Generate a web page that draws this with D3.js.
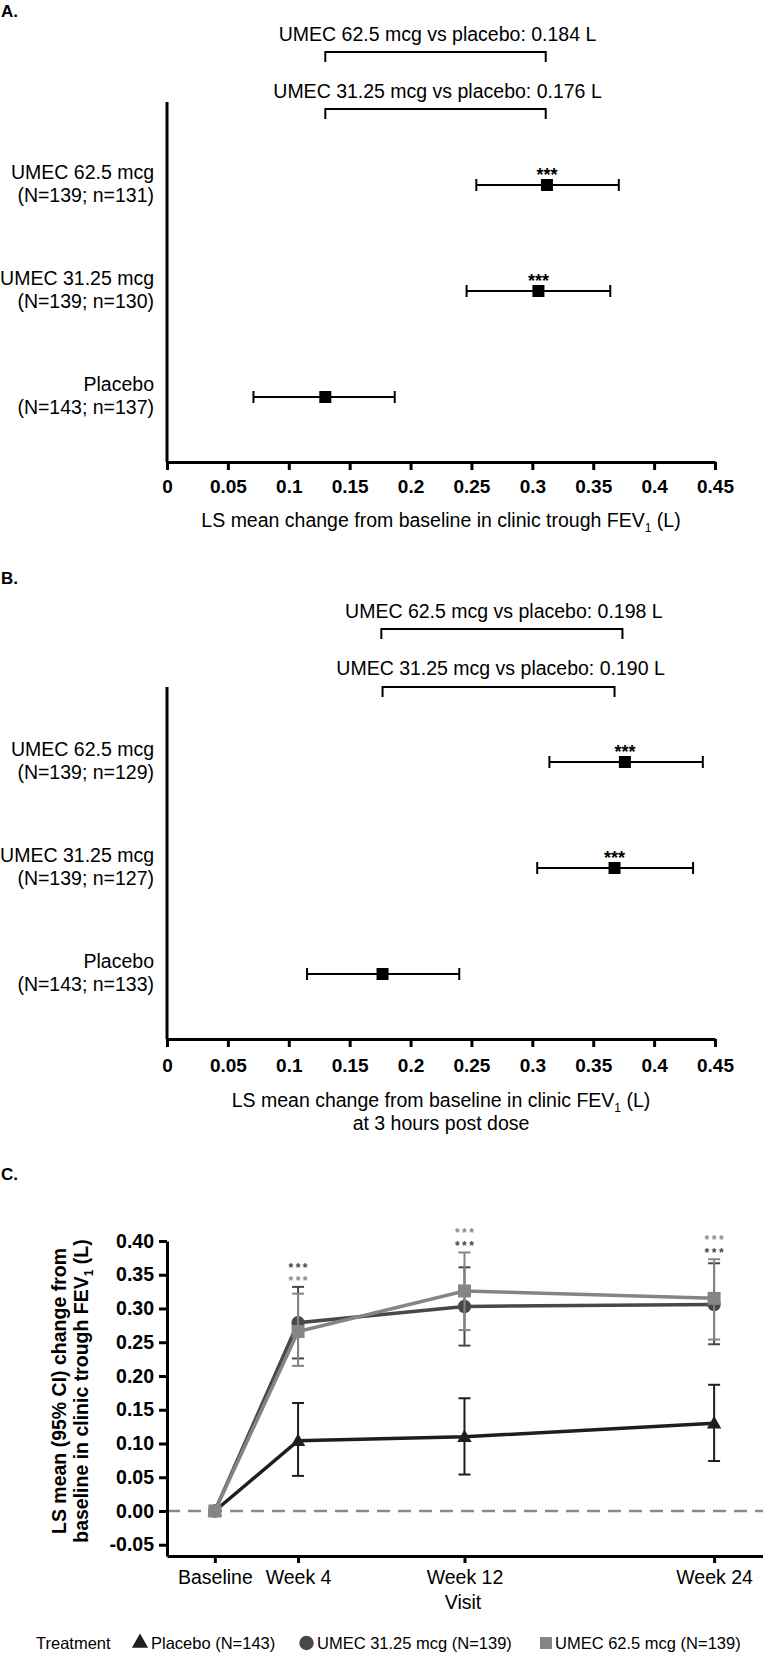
<!DOCTYPE html>
<html><head><meta charset="utf-8">
<script src="https://cdn.jsdelivr.net/npm/d3@7"></script>
<style>
body{margin:0;background:#fff}
svg{display:block}
text{font-family: Arial, "Liberation Sans", Helvetica, sans-serif; fill:#000;}
</style>
</head><body>
<svg id="chart" width="763" height="1653"></svg>
<script>
// ---------- DATA ----------
// Panels A & B (forest plots)
const forestCategories = ["UMEC 62.5 mcg", "UMEC 31.25 mcg", "Placebo"];
const forestTicks = [0, 0.05, 0.1, 0.15, 0.2, 0.25, 0.3, 0.35, 0.4, 0.45];
const forestTickLabels = ["0", "0.05", "0.1", "0.15", "0.2", "0.25", "0.3", "0.35", "0.4", "0.45"];

// A: clinic trough FEV1
const troughN = ["(N=139; n=131)", "(N=139; n=130)", "(N=143; n=137)"];
const troughMean = [0.312, 0.305, 0.130];
const troughLow = [0.254, 0.246, 0.071];
const troughHigh = [0.371, 0.364, 0.187];
const troughSig = ["***", "***", ""];
const troughComparisons = ["UMEC 62.5 mcg vs placebo: 0.184 L", "UMEC 31.25 mcg vs placebo: 0.176 L"];
const troughBracketFrom = [0.130, 0.130];
const troughBracketTo = [0.311, 0.311];

// B: clinic FEV1 at 3 h post dose
const postN = ["(N=139; n=129)", "(N=139; n=127)", "(N=143; n=133)"];
const postMean = [0.376, 0.3675, 0.177];
const postLow = [0.314, 0.304, 0.115];
const postHigh = [0.440, 0.432, 0.240];
const postSig = ["***", "***", ""];
const postComparisons = ["UMEC 62.5 mcg vs placebo: 0.198 L", "UMEC 31.25 mcg vs placebo: 0.190 L"];
const postBracketFrom = [0.176, 0.177];
const postBracketTo = [0.374, 0.3675];

// C: time course
const visits = ["Baseline", "Week 4", "Week 12", "Week 24"];
const visitWeeks = [0, 4, 12, 24];
const placeboMean = [0, 0.104, 0.110, 0.130];
const placeboLow = [null, 0.052, 0.054, 0.074];
const placeboHigh = [null, 0.160, 0.167, 0.187];
const umec31Mean = [0, 0.279, 0.303, 0.306];
const umec31Low = [null, 0.226, 0.245, 0.247];
const umec31High = [null, 0.332, 0.361, 0.367];
const umec62Mean = [0, 0.266, 0.326, 0.315];
const umec62Low = [null, 0.215, 0.268, 0.254];
const umec62High = [null, 0.322, 0.383, 0.373];
const sigTopSeries = [null, "umec31", "umec62", "umec62"];    // upper row of *** at each visit
const sigBottomSeries = [null, "umec62", "umec31", "umec31"]; // lower row of ***
const yTicksC = [-0.05, 0, 0.05, 0.10, 0.15, 0.20, 0.25, 0.30, 0.35, 0.40];
const yTickLabelsC = ["-0.05", "0.00", "0.05", "0.10", "0.15", "0.20", "0.25", "0.30", "0.35", "0.40"];
const legendLabels = ["Placebo (N=143)", "UMEC 31.25 mcg (N=139)", "UMEC 62.5 mcg (N=139)"];

// ---------- DRAW ----------
const svg = d3.select("#chart");
const FONT = 19.5;

function panelLetter(txt, y) {
  svg.append("text").attr("x", 1).attr("y", y).attr("font-size", 17).attr("font-weight", "bold").text(txt);
}

function addFEV(sel, before, after) {
  sel.append("tspan").text(before);
  sel.append("tspan").attr("font-size", 12).attr("dy", 5).text("1");
  sel.append("tspan").attr("dy", -5).text(after);
}

function drawForest(cfg) {
  const x = d3.scaleLinear().domain([0, 0.45]).range([167, 715]);
  const y = d3.scalePoint().domain(forestCategories).range(cfg.rowRange);
  const g = svg.append("g");

  // comparison titles and brackets
  cfg.comparisons.forEach((t, i) => {
    const x1 = x(cfg.bFrom[i]), x2 = x(cfg.bTo[i]);
    g.append("text").attr("x", (x1 + x2) / 2 + 2).attr("y", cfg.titleY[i])
      .attr("text-anchor", "middle").attr("font-size", FONT).text(t);
    g.append("path")
      .attr("d", `M${x1},${cfg.bracketY[i] + 10}V${cfg.bracketY[i]}H${x2}V${cfg.bracketY[i] + 10}`)
      .attr("fill", "none").attr("stroke", "#000").attr("stroke-width", 2);
  });

  // y axis line
  g.append("line").attr("x1", 167).attr("x2", 167).attr("y1", cfg.top).attr("y2", cfg.axisY)
    .attr("stroke", "#000").attr("stroke-width", 3);

  // x axis
  const ax = g.append("g").attr("transform", `translate(0,${cfg.axisY})`)
    .call(d3.axisBottom(x).tickValues(forestTicks).tickFormat((d, i) => forestTickLabels[i])
      .tickSize(8).tickSizeOuter(0).tickPadding(cfg.tickPad));
  ax.select(".domain").attr("stroke", "#000").attr("stroke-width", 3);
  ax.selectAll(".tick line").attr("stroke", "#000").attr("stroke-width", 3);
  ax.selectAll(".tick text").attr("font-size", 19).attr("font-weight", "bold")
    .attr("font-family", 'Arial, "Liberation Sans", sans-serif').attr("fill", "#000");

  // axis title
  cfg.axisTitle(g);

  // rows
  forestCategories.forEach((c, i) => {
    const yy = y(c);
    g.append("text").attr("x", 154).attr("y", yy - 6).attr("text-anchor", "end").attr("font-size", FONT).text(c);
    g.append("text").attr("x", 154).attr("y", yy + 17).attr("text-anchor", "end").attr("font-size", FONT).text(cfg.nLabels[i]);
    const lo = x(cfg.low[i]), hi = x(cfg.high[i]);
    g.append("line").attr("x1", lo).attr("x2", hi).attr("y1", yy).attr("y2", yy).attr("stroke", "#000").attr("stroke-width", 2);
    [lo, hi].forEach(xx => g.append("line").attr("x1", xx).attr("x2", xx).attr("y1", yy - 6).attr("y2", yy + 6)
      .attr("stroke", "#000").attr("stroke-width", 2));
    g.append("rect").attr("x", x(cfg.mean[i]) - 6).attr("y", yy - 6).attr("width", 12).attr("height", 12).attr("fill", "#000");
    if (cfg.sig[i]) {
      g.append("text").attr("x", x(cfg.mean[i])).attr("y", yy - 4.5).attr("text-anchor", "middle")
        .attr("font-size", 18).attr("font-weight", "bold").text(cfg.sig[i]);
    }
  });
}

panelLetter("A.", 17);
drawForest({
  rowRange: [185, 397], top: 102, axisY: 462, tickPad: 10,
  titleY: [41, 98], bracketY: [52, 109],
  comparisons: troughComparisons, bFrom: troughBracketFrom, bTo: troughBracketTo,
  nLabels: troughN, mean: troughMean, low: troughLow, high: troughHigh, sig: troughSig,
  axisTitle: g => {
    const t = g.append("text").attr("x", 441).attr("y", 527).attr("text-anchor", "middle").attr("font-size", FONT);
    addFEV(t, "LS mean change from baseline in clinic trough FEV", " (L)");
  }
});

panelLetter("B.", 584);
drawForest({
  rowRange: [762, 974], top: 687, axisY: 1039, tickPad: 12,
  titleY: [618, 675], bracketY: [629, 687],
  comparisons: postComparisons, bFrom: postBracketFrom, bTo: postBracketTo,
  nLabels: postN, mean: postMean, low: postLow, high: postHigh, sig: postSig,
  axisTitle: g => {
    const t = g.append("text").attr("x", 441).attr("y", 1107).attr("text-anchor", "middle").attr("font-size", FONT);
    addFEV(t, "LS mean change from baseline in clinic FEV", " (L)");
    g.append("text").attr("x", 441).attr("y", 1130).attr("text-anchor", "middle").attr("font-size", FONT).text("at 3 hours post dose");
  }
});

// ---------- Panel C ----------
panelLetter("C.", 1180);
const xc = d3.scaleLinear().domain([-2.3, 26.35]).range([167, 763]);
const yc = d3.scaleLinear().domain([-0.0667, 0.40]).range([1556, 1241]);
const gc = svg.append("g");

// zero dashed line
gc.append("line").attr("x1", 167).attr("x2", 763).attr("y1", yc(0)).attr("y2", yc(0))
  .attr("stroke", "#8a8a8a").attr("stroke-width", 2.5).attr("stroke-dasharray", "13,8");

const yAx = gc.append("g").attr("transform", "translate(167,0)")
  .call(d3.axisLeft(yc).tickValues(yTicksC).tickFormat((d, i) => yTickLabelsC[i]).tickSize(8).tickSizeOuter(0).tickPadding(5));
yAx.select(".domain").attr("stroke", "#000").attr("stroke-width", 3);
yAx.selectAll(".tick line").attr("stroke", "#000").attr("stroke-width", 3);
yAx.selectAll(".tick text").attr("font-size", 19.5).attr("font-weight", "bold")
  .attr("font-family", 'Arial, "Liberation Sans", sans-serif').attr("fill", "#000");

const xAx = gc.append("g").attr("transform", "translate(0,1556)")
  .call(d3.axisBottom(xc).tickValues(visitWeeks).tickFormat((d, i) => visits[i]).tickSize(7).tickSizeOuter(0).tickPadding(7));
xAx.select(".domain").attr("stroke", "#000").attr("stroke-width", 3);
xAx.selectAll(".tick line").attr("stroke", "#000").attr("stroke-width", 3);
xAx.selectAll(".tick text").attr("font-size", 19.5)
  .attr("font-family", 'Arial, "Liberation Sans", sans-serif').attr("fill", "#000");

gc.append("text").attr("x", 463).attr("y", 1609).attr("text-anchor", "middle").attr("font-size", 19.5).text("Visit");

// y title
gc.append("text").attr("transform", "translate(66,1391) rotate(-90)").attr("text-anchor", "middle")
  .attr("font-size", 19.5).attr("font-weight", "bold").text("LS mean (95% CI) change from");
const yt2 = gc.append("text").attr("transform", "translate(88,1391) rotate(-90)").attr("text-anchor", "middle")
  .attr("font-size", 19.5).attr("font-weight", "bold");
addFEV(yt2, "baseline in clinic trough FEV", " (L)");

const series = [
  { key: "placebo", mean: placeboMean, low: placeboLow, high: placeboHigh, color: "#1e1e1e", sym: d3.symbolTriangle, size: 90 },
  { key: "umec31", mean: umec31Mean, low: umec31Low, high: umec31High, color: "#484848", sym: d3.symbolCircle, size: 140 },
  { key: "umec62", mean: umec62Mean, low: umec62Low, high: umec62High, color: "#858585", sym: d3.symbolSquare, size: 169 }
];
const line = d3.line().x((d, i) => xc(visitWeeks[i])).y(d => yc(d));

series.forEach(s => {
  const g = gc.append("g");
  visitWeeks.forEach((w, i) => {
    if (s.low[i] == null) return;
    const xx = xc(w);
    g.append("line").attr("x1", xx).attr("x2", xx).attr("y1", yc(s.low[i])).attr("y2", yc(s.high[i]))
      .attr("stroke", s.color).attr("stroke-width", 2);
    [s.low[i], s.high[i]].forEach(v => g.append("line").attr("x1", xx - 6).attr("x2", xx + 6)
      .attr("y1", yc(v)).attr("y2", yc(v)).attr("stroke", s.color).attr("stroke-width", 2));
  });
  g.append("path").attr("d", line(s.mean)).attr("fill", "none").attr("stroke", s.color).attr("stroke-width", 3.5);
  s.mean.forEach((v, i) => {
    g.append("path").attr("d", d3.symbol(s.sym, s.size)())
      .attr("transform", `translate(${xc(visitWeeks[i])},${yc(v) + (s.sym === d3.symbolTriangle ? 1 : 0)})`)
      .attr("fill", s.color);
  });
});

// significance stars: two stacked rows per visit
const seriesColor = { umec31: "#484848", umec62: "#8a8a8a" };
visitWeeks.forEach((w, i) => {
  if (!sigTopSeries[i]) return;
  const maxHigh = Math.max(placeboHigh[i], umec31High[i], umec62High[i]);
  const bottomCenter = yc(maxHigh) - 9;
  const topCenter = bottomCenter - 13;
  [[sigTopSeries[i], topCenter], [sigBottomSeries[i], bottomCenter]].forEach(([k, cy]) => {
    gc.append("text").attr("text-anchor", "middle").attr("font-size", 12).attr("font-weight", "bold")
      .attr("letter-spacing", 2.5).attr("x", xc(w) + 1.2).attr("y", cy + 7)
      .style("fill", seriesColor[k]).text("***");
  });
});

// legend
const lg = svg.append("g");
const LY = 1649;
lg.append("text").attr("x", 36).attr("y", LY).attr("font-size", 16.5).text("Treatment");
const legendItems = [
  { sym: d3.symbolTriangle, size: 115, color: "#1e1e1e", cx: 140, tx: 151 },
  { sym: d3.symbolCircle, size: 165, color: "#484848", cx: 306.5, tx: 317 },
  { sym: d3.symbolSquare, size: 144, color: "#858585", cx: 546, tx: 555 }
];
legendItems.forEach((it, i) => {
  lg.append("path").attr("d", d3.symbol(it.sym, it.size)()).attr("transform", `translate(${it.cx},${LY - 6})`).attr("fill", it.color);
  lg.append("text").attr("x", it.tx).attr("y", LY).attr("font-size", 16.5).text(legendLabels[i]);
});
</script>
</body></html>
